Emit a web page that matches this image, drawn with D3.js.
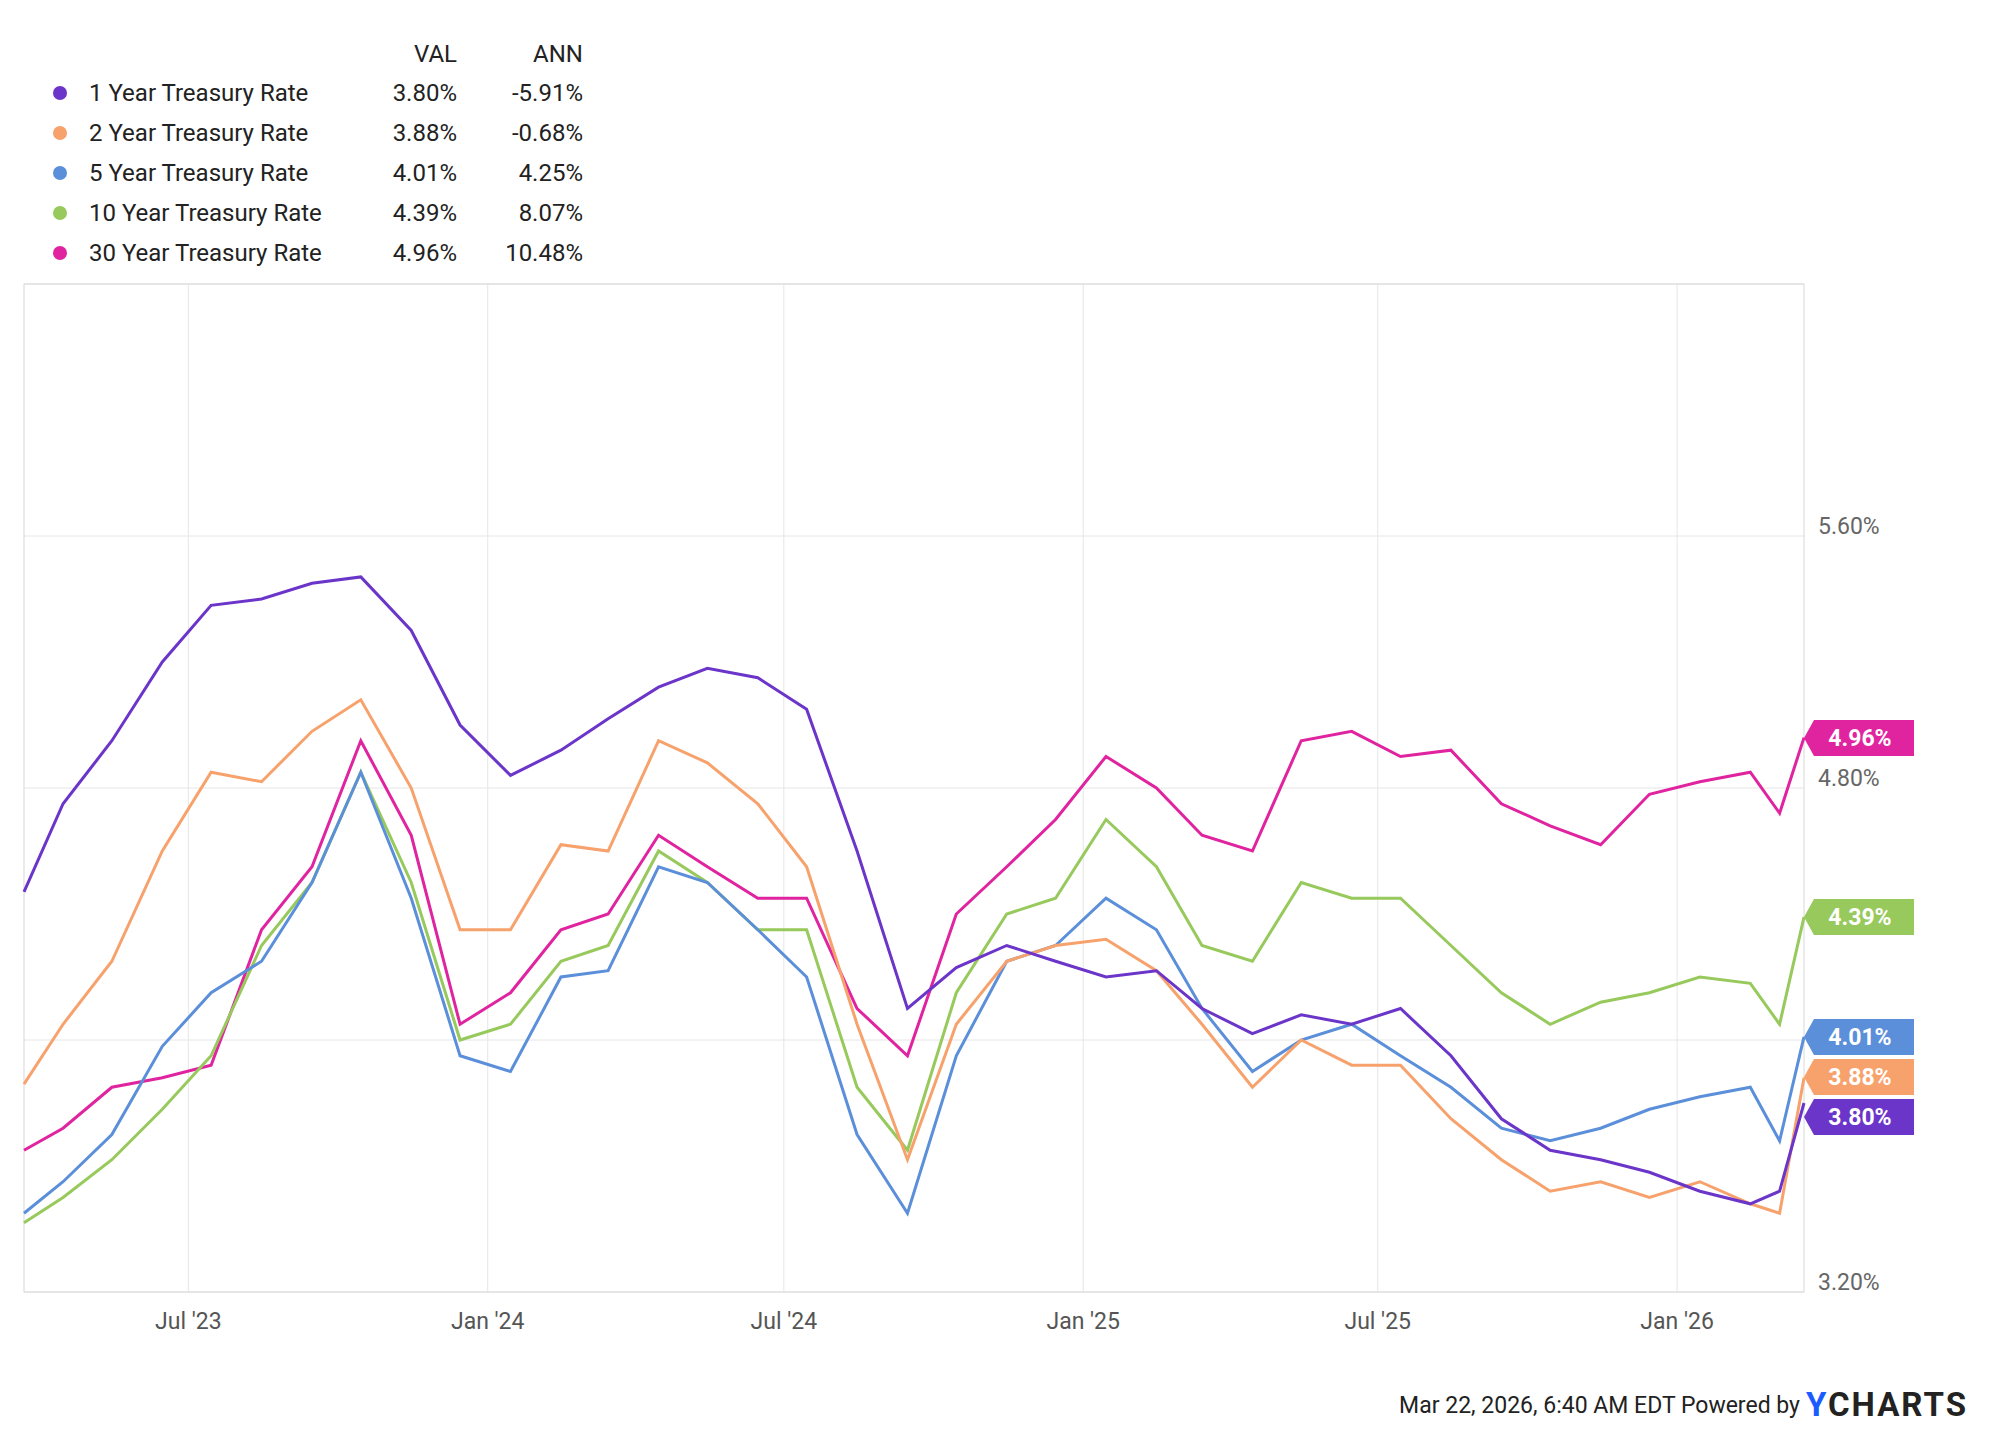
<!DOCTYPE html>
<html>
<head>
<script src="https://cdn.jsdelivr.net/npm/d3@7"></script>
<style>
  body { margin: 0; background: #fff; }
  text { font-family: Roboto, sans-serif; }
</style>
</head>
<body>
<svg id="svg" width="2000" height="1435"></svg>
<script>
var dates = ["2023-03-22","2023-04-15","2023-05-15","2023-06-15","2023-07-15","2023-08-15","2023-09-15","2023-10-15","2023-11-15","2023-12-15",
  "2024-01-15","2024-02-15","2024-03-15","2024-04-15","2024-05-15","2024-06-15","2024-07-15","2024-08-15","2024-09-15","2024-10-15","2024-11-15","2024-12-15",
  "2025-01-15","2025-02-15","2025-03-15","2025-04-15","2025-05-15","2025-06-15","2025-07-15","2025-08-15","2025-09-15","2025-10-15","2025-11-15","2025-12-15",
  "2026-01-15","2026-02-15","2026-03-05","2026-03-20"];
var names = ["1 Year Treasury Rate","2 Year Treasury Rate","5 Year Treasury Rate","10 Year Treasury Rate","30 Year Treasury Rate"];
var colors = ["#6b35c9","#f7a26c","#5b8fd9","#97c95c","#e0249f"];
var valLabels = ["3.80%","3.88%","4.01%","4.39%","4.96%"];
var annLabels = ["-5.91%","-0.68%","4.25%","8.07%","10.48%"];
var y1 = [4.47,4.75,4.95,5.20,5.38,5.40,5.45,5.47,5.30,5.00,4.84,4.92,5.02,5.12,5.18,5.15,5.05,4.60,4.10,4.23,4.30,4.25,4.20,4.22,4.10,4.02,4.08,4.05,4.10,3.95,3.75,3.65,3.62,3.58,3.52,3.48,3.52,3.80];
var y2 = [3.86,4.05,4.25,4.60,4.85,4.82,4.98,5.08,4.80,4.35,4.35,4.62,4.60,4.95,4.88,4.75,4.55,4.05,3.62,4.05,4.25,4.30,4.32,4.22,4.05,3.85,4.00,3.92,3.92,3.75,3.62,3.52,3.55,3.50,3.55,3.48,3.45,3.88];
var y5 = [3.45,3.55,3.70,3.98,4.15,4.25,4.50,4.85,4.45,3.95,3.90,4.20,4.22,4.55,4.50,4.35,4.20,3.70,3.45,3.95,4.25,4.30,4.45,4.35,4.10,3.90,4.00,4.05,3.95,3.85,3.72,3.68,3.72,3.78,3.82,3.85,3.68,4.01];
var y10 = [3.42,3.50,3.62,3.78,3.95,4.30,4.50,4.85,4.50,4.00,4.05,4.25,4.30,4.60,4.50,4.35,4.35,3.85,3.65,4.15,4.40,4.45,4.70,4.55,4.30,4.25,4.50,4.45,4.45,4.30,4.15,4.05,4.12,4.15,4.20,4.18,4.05,4.39];
var y30 = [3.65,3.72,3.85,3.88,3.92,4.35,4.55,4.95,4.65,4.05,4.15,4.35,4.40,4.65,4.55,4.45,4.45,4.10,3.95,4.40,4.55,4.70,4.90,4.80,4.65,4.60,4.95,4.98,4.90,4.92,4.75,4.68,4.62,4.78,4.82,4.85,4.72,4.96];
var series = [y1, y2, y5, y10, y30];
var yTicks = [3.2, 4.0, 4.8, 5.6, 6.4];
var yTickLabels = [3.2, 4.8, 5.6];
var xTicks = ["2023-07-01","2024-01-01","2024-07-01","2025-01-01","2025-07-01","2026-01-01"];

var svg = d3.select("#svg");
var L = 24, R = 1804, T = 284, B = 1292;
var parse = d3.timeParse("%Y-%m-%d");
var x = d3.scaleTime().domain([parse("2023-03-22"), parse("2026-03-20")]).range([L, R]);
var y = d3.scaleLinear().domain([3.2, 6.4]).range([B, T]);

// grid
svg.append("g").selectAll("line").data(yTicks).enter().append("line")
  .attr("x1", L).attr("x2", R).attr("y1", d => y(d)).attr("y2", d => y(d))
  .attr("stroke", "#e6e6e6").attr("stroke-width", 1);
svg.append("g").selectAll("line").data(xTicks).enter().append("line")
  .attr("x1", d => x(parse(d))).attr("x2", d => x(parse(d))).attr("y1", T).attr("y2", B)
  .attr("stroke", "#e6e6e6").attr("stroke-width", 1);
svg.append("rect").attr("x", L).attr("y", T).attr("width", R - L).attr("height", B - T)
  .attr("fill", "none").attr("stroke", "#d8d8d8");

// axes labels
svg.append("g").selectAll("text").data(yTickLabels).enter().append("text")
  .attr("x", 1818).attr("y", d => y(d) - 2).attr("font-size", 23).attr("fill", "#666")
  .text(d => d.toFixed(2) + "%");
var fmt = d3.timeFormat("%b '%y");
svg.append("g").selectAll("text").data(xTicks).enter().append("text")
  .attr("x", d => x(parse(d))).attr("y", 1329).attr("text-anchor", "middle")
  .attr("font-size", 23).attr("fill", "#555").text(d => fmt(parse(d)));

// lines (30y drawn first, 1y last)
var line = d3.line().x((d, i) => x(parse(dates[i]))).y(d => y(d)).curve(d3.curveLinear);
[4, 3, 2, 1, 0].forEach(function (k) {
  svg.append("path").datum(series[k]).attr("d", line)
    .attr("fill", "none").attr("stroke", colors[k]).attr("stroke-width", 3);
});

// end tags
var tagY = [1117, 1077, 1037, 917, 738];
tagY.forEach(function (ty, k) {
  var g = svg.append("g");
  g.append("path").attr("d", "M" + R + "," + ty + " l10,-18 h100 v36 h-100 z").attr("fill", colors[k]);
  g.append("text").attr("x", 1860).attr("y", ty + 8).attr("text-anchor", "middle")
    .attr("font-size", 23).attr("font-weight", "bold").attr("fill", "#fff").text(valLabels[k]);
});

// legend
var lg = svg.append("g");
lg.append("text").attr("x", 457).attr("y", 62).attr("text-anchor", "end").attr("font-size", 24).attr("fill", "#222").text("VAL");
lg.append("text").attr("x", 583).attr("y", 62).attr("text-anchor", "end").attr("font-size", 24).attr("fill", "#222").text("ANN");
names.forEach(function (n, k) {
  var yy = 93 + k * 40;
  lg.append("circle").attr("cx", 60).attr("cy", yy).attr("r", 7).attr("fill", colors[k]);
  lg.append("text").attr("x", 89).attr("y", yy + 8).attr("font-size", 24).attr("fill", "#222").text(n);
  lg.append("text").attr("x", 457).attr("y", yy + 8).attr("text-anchor", "end").attr("font-size", 24).attr("fill", "#222").text(valLabels[k]);
  lg.append("text").attr("x", 583).attr("y", yy + 8).attr("text-anchor", "end").attr("font-size", 24).attr("fill", "#222").text(annLabels[k]);
});

// footer
svg.append("text").attr("x", 1800).attr("y", 1413).attr("text-anchor", "end").attr("font-size", 23).attr("fill", "#222")
  .text("Mar 22, 2026, 6:40 AM EDT Powered by");
svg.append("text").attr("x", 1806).attr("y", 1416).attr("font-size", 33).attr("font-weight", "bold").attr("fill", "#222")
  .attr("letter-spacing", 2).html('<tspan fill="#1a5cff">Y</tspan>CHARTS');
</script>
</body>
</html>
